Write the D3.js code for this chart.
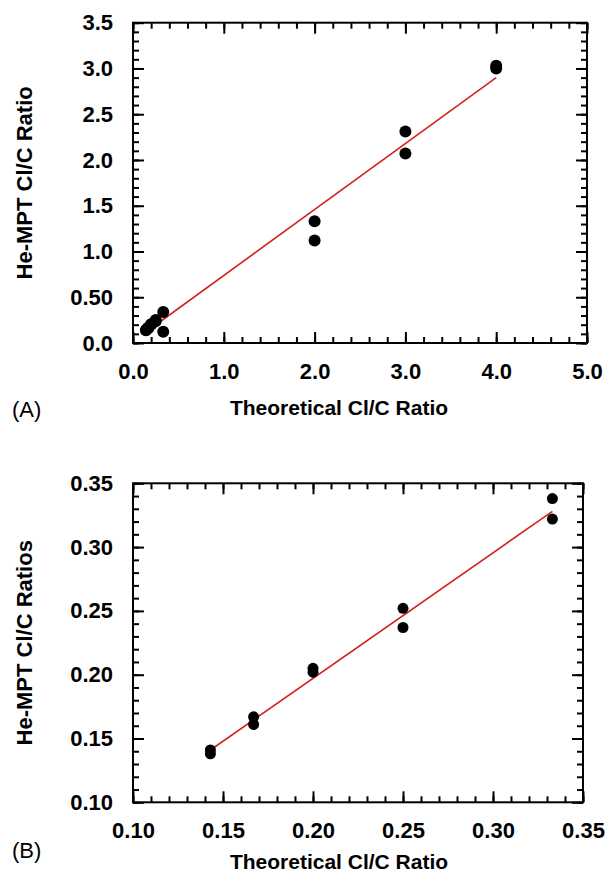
<!DOCTYPE html>
<html>
<head>
<meta charset="utf-8">
<script src="https://cdn.jsdelivr.net/npm/d3@7"></script>
<style>
  body { margin: 0; background: #fff; }
  svg text { font-family: "Liberation Sans", Arial, Helvetica, sans-serif; }
</style>
</head>
<body>
<div id="chart"></div>
<script>
// panel A data
const theoA = [0.143, 0.143, 0.167, 0.167, 0.2, 0.2, 0.25, 0.25, 0.333, 0.333, 2.0, 2.0, 3.0, 3.0, 4.0, 4.0];
const measA = [0.141, 0.139, 0.167, 0.161, 0.205, 0.202, 0.252, 0.237, 0.338, 0.122, 1.33, 1.12, 2.31, 2.07, 3.03, 3.00];
const fitA = [[0.143, 0.12], [4.0, 2.90]];
const xTicksA = [0, 1, 2, 3, 4, 5];
const xLabelsA = ["0.0", "1.0", "2.0", "3.0", "4.0", "5.0"];
const yTicksA = [0, 0.5, 1, 1.5, 2, 2.5, 3, 3.5];
const yLabelsA = ["0.0", "0.50", "1.0", "1.5", "2.0", "2.5", "3.0", "3.5"];

// panel B data
const theoB = [0.143, 0.143, 0.167, 0.167, 0.2, 0.2, 0.25, 0.25, 0.333, 0.333];
const measB = [0.141, 0.138, 0.167, 0.161, 0.205, 0.202, 0.252, 0.237, 0.338, 0.322];
const fitB = [[0.143, 0.141], [0.333, 0.328]];
const xTicksB = [0.10, 0.15, 0.20, 0.25, 0.30, 0.35];
const xLabelsB = ["0.10", "0.15", "0.20", "0.25", "0.30", "0.35"];
const yTicksB = [0.10, 0.15, 0.20, 0.25, 0.30, 0.35];
const yLabelsB = ["0.10", "0.15", "0.20", "0.25", "0.30", "0.35"];

const svg = d3.select('#chart').append('svg').attr('width', 605).attr('height', 877);

function range(a, b, step) {
    const out = [];
    const n = Math.round((b - a) / step);
    for (let i = 0; i <= n; i++) out.push(+(a + i * step).toFixed(4));
    return out;
}

function drawPanel(p) {
    const g = svg.append('g');
    const x = d3.scaleLinear().domain(p.xDomain).range([p.left, p.right]);
    const y = d3.scaleLinear().domain(p.yDomain).range([p.bottom, p.top]);
    const xMinor = range(p.xDomain[0], p.xDomain[1], p.xMinorStep);
    const yMinor = range(p.yDomain[0], p.yDomain[1], p.yMinorStep);

    const axes = [
        { axis: d3.axisBottom, scale: x, pos: `translate(0,${p.bottom})`, ticks: p.xTicks, minor: xMinor },
        { axis: d3.axisTop, scale: x, pos: `translate(0,${p.top})`, ticks: p.xTicks, minor: xMinor },
        { axis: d3.axisLeft, scale: y, pos: `translate(${p.left},0)`, ticks: p.yTicks, minor: yMinor },
        { axis: d3.axisRight, scale: y, pos: `translate(${p.right},0)`, ticks: p.yTicks, minor: yMinor }
    ];
    axes.forEach(a => {
        const minorG = g.append('g').attr('transform', a.pos)
            .call(a.axis(a.scale).tickValues(a.minor).tickSize(-6).tickFormat(''));
        const majorG = g.append('g').attr('transform', a.pos)
            .call(a.axis(a.scale).tickValues(a.ticks).tickSize(-11).tickFormat(''));
        [minorG, majorG].forEach(s => {
            s.select('.domain').remove();
            s.selectAll('line').attr('stroke', '#000').attr('stroke-width', 2);
        });
    });

    // tick labels
    g.append('g').attr('transform', `translate(0,${p.bottom})`)
        .call(d3.axisBottom(x).tickValues(p.xTicks).tickSize(0).tickPadding(20)
            .tickFormat((d, i) => p.xLabels[i]))
        .call(s => s.select('.domain').remove())
        .selectAll('text').attr('font-size', 22).attr('font-weight', 'bold').attr('fill', '#000');
    g.append('g').attr('transform', `translate(${p.left},0)`)
        .call(d3.axisLeft(y).tickValues(p.yTicks).tickSize(0).tickPadding(20)
            .tickFormat((d, i) => p.yLabels[i]))
        .call(s => s.select('.domain').remove())
        .selectAll('text').attr('font-size', 22).attr('font-weight', 'bold').attr('fill', '#000');

    // frame
    g.append('rect')
        .attr('x', p.left).attr('y', p.top)
        .attr('width', p.right - p.left).attr('height', p.bottom - p.top)
        .attr('fill', 'none').attr('stroke', '#000').attr('stroke-width', 2);

    // fit line
    g.append('line')
        .attr('x1', x(p.fit[0][0])).attr('y1', y(p.fit[0][1]))
        .attr('x2', x(p.fit[1][0])).attr('y2', y(p.fit[1][1]))
        .attr('stroke', '#d62020').attr('stroke-width', 1.6);

    // points
    g.selectAll('circle.pt').data(p.xs).enter().append('circle')
        .attr('class', 'pt')
        .attr('cx', d => x(d)).attr('cy', (d, i) => y(p.ys[i]))
        .attr('r', p.r).attr('fill', '#000');

    // titles
    g.append('text')
        .attr('x', 339).attr('y', p.xTitleY)
        .attr('text-anchor', 'middle').attr('font-size', 21).attr('font-weight', 'bold')
        .text('Theoretical Cl/C Ratio');
    g.append('text')
        .attr('transform', `translate(32,${(p.top + p.bottom) / 2}) rotate(-90)`)
        .attr('text-anchor', 'middle').attr('font-size', 22).attr('font-weight', 'bold')
        .text(p.yTitle);
    g.append('text')
        .attr('x', 12).attr('y', p.tagY)
        .attr('font-size', 22)
        .text(p.tag);
}

drawPanel({
    left: 133, right: 587, top: 22.7, bottom: 343,
    xDomain: [0, 5], yDomain: [0, 3.5], xMinorStep: 0.2, yMinorStep: 0.1,
    xTicks: xTicksA, xLabels: xLabelsA, yTicks: yTicksA, yLabels: yLabelsA,
    xs: theoA, ys: measA, fit: fitA, r: 6,
    yTitle: 'He-MPT Cl/C Ratio', xTitleY: 415, tag: '(A)', tagY: 417
});

drawPanel({
    left: 133, right: 583, top: 483.3, bottom: 802.3,
    xDomain: [0.10, 0.35], yDomain: [0.10, 0.35], xMinorStep: 0.01, yMinorStep: 0.01,
    xTicks: xTicksB, xLabels: xLabelsB, yTicks: yTicksB, yLabels: yLabelsB,
    xs: theoB, ys: measB, fit: fitB, r: 5.5,
    yTitle: 'He-MPT Cl/C Ratios', xTitleY: 869, tag: '(B)', tagY: 858
});
</script>
</body>
</html>
